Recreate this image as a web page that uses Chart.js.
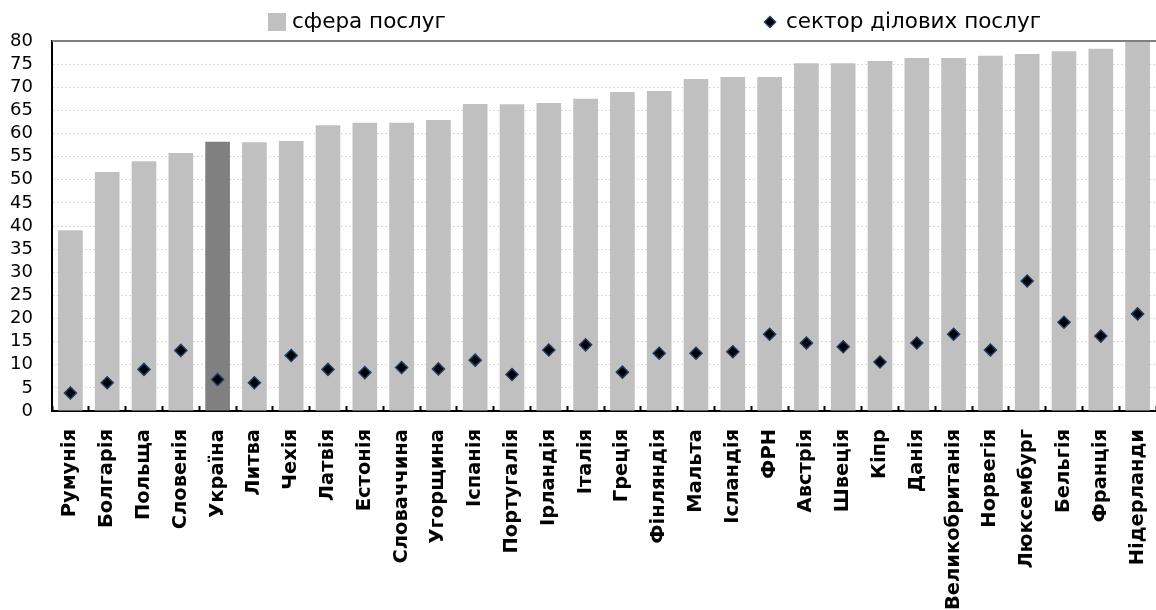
<!DOCTYPE html>
<html>
<head>
<meta charset="utf-8">
<script src="https://cdn.jsdelivr.net/npm/chart.js@4/dist/chart.umd.min.js"></script>
<style>
  html, body { margin: 0; padding: 0; background: #fff; overflow: hidden; }
  #wrap { width: 1156px; height: 610px; }
</style>
</head>
<body>
<div id="wrap"><canvas id="chart"></canvas></div>
<script>
// Data
const countries = ['Румунія', 'Болгарія', 'Польща', 'Словенія', 'Україна', 'Литва', 'Чехія', 'Латвія',
    'Естонія', 'Словаччина', 'Угорщина', 'Іспанія', 'Португалія', 'Ірландія', 'Італія', 'Греція',
    'Фінляндія', 'Мальта', 'Ісландія', 'ФРН', 'Австрія', 'Швеція', 'Кіпр', 'Данія',
    'Великобританія', 'Норвегія', 'Люксембург', 'Бельгія', 'Франція', 'Нідерланди'];

const servicesShare = [39.1, 51.7, 54.0, 55.8, 58.2, 58.1, 58.4, 61.8, 62.3, 62.3, 62.9, 66.4, 66.3, 66.6,
    67.5, 69.0, 69.2, 71.8, 72.2, 72.2, 75.2, 75.2, 75.7, 76.3, 76.3, 76.8, 77.2, 77.8, 78.3, 79.8];

const businessShare = [3.9, 6.1, 9.0, 13.1, 6.8, 6.1, 12.0, 9.0, 8.3, 9.4, 9.1, 11.0, 7.9, 13.2, 14.3,
    8.4, 12.5, 12.5, 12.8, 16.6, 14.7, 13.9, 10.6, 14.7, 16.6, 13.2, 28.1, 19.2, 16.2, 21.0];

const yTicks = [0, 5, 10, 15, 20, 25, 30, 35, 40, 45, 50, 55, 60, 65, 70, 75, 80];

const legendLabels = ['сфера послуг', 'сектор ділових послуг'];

const FONT = '"DejaVu Sans", Arial, sans-serif';

// bar colours: Ukraine is highlighted
const barColors = countries.map(c => c === 'Україна' ? '#808080' : '#c0c0c0');

// solid top border of the plot area and a hand drawn legend
const framePlugin = {
    id: 'frame',
    afterDraw(chart) {
        const { ctx, chartArea } = chart;
        ctx.save();
        ctx.strokeStyle = '#7f7f7f';
        ctx.lineWidth = 2;
        ctx.beginPath();
        ctx.moveTo(chartArea.left, chartArea.top);
        ctx.lineTo(chartArea.right, chartArea.top);
        ctx.stroke();

        // legend
        ctx.font = '21.5px ' + FONT;
        ctx.textBaseline = 'middle';
        ctx.fillStyle = '#c0c0c0';
        ctx.fillRect(268, 13, 18, 18);
        ctx.fillStyle = '#000';
        ctx.fillText(legendLabels[0], 292, 22);

        ctx.beginPath();
        ctx.moveTo(770, 16.5);
        ctx.lineTo(775.5, 22);
        ctx.lineTo(770, 27.5);
        ctx.lineTo(764.5, 22);
        ctx.closePath();
        ctx.fillStyle = '#000';
        ctx.fill();
        ctx.strokeStyle = '#1f3b66';
        ctx.lineWidth = 1.5;
        ctx.stroke();
        ctx.fillStyle = '#000';
        ctx.fillText(legendLabels[1], 786, 22);
        ctx.restore();
    }
};

new Chart(document.getElementById('chart'), {
    data: {
        labels: countries,
        datasets: [
            {
                type: 'line',
                label: legendLabels[1],
                data: businessShare,
                showLine: false,
                pointStyle: 'rectRot',
                pointRadius: 6,
                pointBackgroundColor: '#000',
                pointBorderColor: '#1f3b66',
                pointBorderWidth: 1.5,
                order: 0
            },
            {
                type: 'bar',
                label: legendLabels[0],
                data: servicesShare,
                backgroundColor: barColors,
                barPercentage: 0.67,
                categoryPercentage: 1.0,
                order: 1
            }
        ]
    },
    options: {
        responsive: true,
        maintainAspectRatio: false,
        animation: false,
        layout: { autoPadding: false, padding: { top: 41, right: 0, left: 0, bottom: 0 } },
        plugins: {
            legend: { display: false },
            tooltip: { enabled: false }
        },
        scales: {
            x: {
                grid: {
                    drawOnChartArea: false,
                    drawTicks: true,
                    tickLength: -5,
                    tickColor: '#000',
                    tickWidth: 2,
                    offset: true
                },
                border: { display: true, color: '#000', width: 2 },
                ticks: {
                    autoSkip: false,
                    minRotation: 90,
                    maxRotation: 90,
                    padding: 23,
                    color: '#000',
                    font: { family: FONT, size: 19.5, weight: 'bold' }
                },
                afterFit(scale) {
                    scale.height = 199;
                    scale.paddingLeft = 0;
                    scale.paddingRight = 0;
                }
            },
            y: {
                min: 0,
                max: 80,
                afterBuildTicks(scale) { scale.ticks = yTicks.map(v => ({ value: v })); },
                grid: {
                    color: '#d9d9d9',
                    lineWidth: 1,
                    drawTicks: false
                },
                border: { display: true, color: '#000', width: 2, dash: [2, 2] },
                ticks: {
                    autoSkip: false,
                    padding: 19,
                    color: '#000',
                    font: { family: FONT, size: 18 }
                },
                afterFit(scale) { scale.width = 52; }
            }
        }
    },
    plugins: [framePlugin]
});
</script>
</body>
</html>
